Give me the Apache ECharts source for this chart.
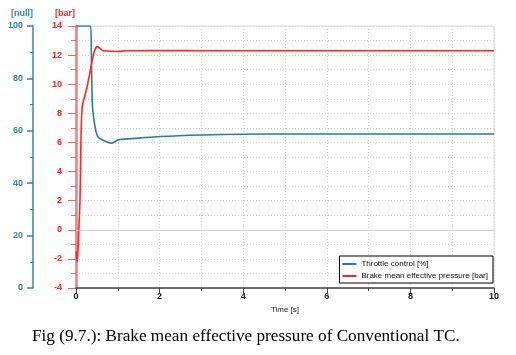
<!DOCTYPE html>
<html>
<head>
<meta charset="utf-8">
<script src="https://cdn.jsdelivr.net/npm/echarts@6/dist/echarts.min.js"></script>
<style>
html,body{margin:0;padding:0;background:#fff;}
#chart{width:516px;height:355px;}
</style>
</head>
<body>
<div id="chart"></div>
<script>
// Time [s] and values
var throttleTime = [0, 0.35, 0.37, 0.39, 0.41, 0.45, 0.5, 0.55, 0.65, 0.85, 1.0, 1.05, 1.5, 2, 3, 4, 5, 6, 7, 8, 9, 10];
var throttle =     [100, 100, 85, 70.5, 66.7, 62, 58.5, 57.3, 56.4, 55.3, 56.5, 56.7, 57.2, 57.8, 58.4, 58.7, 58.8, 58.8, 58.8, 58.8, 58.8, 58.8];

var bmepTime = [0, 0.03, 0.06, 0.095, 0.11, 0.13, 0.15, 0.18, 0.21, 0.27, 0.33, 0.39, 0.45, 0.51, 0.57, 0.65, 0.8, 1.0, 1.2, 1.5, 2, 3, 4, 5, 6, 7, 8, 9, 10];
var bmep =     [-1.5, -2.2, -0.5, 2.0, 4.8, 7.5, 8.5, 8.9, 9.2, 9.9, 10.75, 11.66, 12.35, 12.58, 12.47, 12.3, 12.28, 12.25, 12.3, 12.3, 12.32, 12.3, 12.3, 12.3, 12.3, 12.3, 12.3, 12.3, 12.3];

var seriesNames = ['Throttle control [%]', 'Brake mean effective pressure [bar]'];
var xTicks = [0, 2, 4, 6, 8, 10];
var barTicks = [-4, -2, 0, 2, 4, 6, 8, 10, 12, 14];
var nullTicks = [0, 20, 40, 60, 80, 100];
var caption = 'Fig (9.7.): Brake mean effective pressure of Conventional TC.';

function pairs(t, v) { return t.map(function (x, i) { return [x, v[i]]; }); }

var BLUE = '#2b7c9b';
var RED = '#ff2525';
var AXBLUE = '#3a86a6';
var FONT = 'Liberation Sans';

var chart = echarts.init(document.getElementById('chart'), null, {renderer: 'canvas'});
chart.setOption({
  animation: false,
  backgroundColor: '#fff',
  textStyle: {fontFamily: FONT},
  grid: {left: 76, right: 22, top: 26, bottom: 67, show: true, borderColor: '#d8d8d8', borderWidth: 1},
  legend: {
    right: 23, top: 256, orient: 'vertical',
    backgroundColor: '#fff', borderColor: '#000', borderWidth: 1,
    padding: [4, 5, 3, 3], itemGap: 4, itemWidth: 14, itemHeight: 8,
    textStyle: {fontSize: 8, color: '#111', fontFamily: FONT},
    data: [
      {name: seriesNames[0], icon: 'path://M0,0 L14,0 L14,2 L0,2 Z', itemStyle: {color: BLUE}},
      {name: seriesNames[1], icon: 'path://M0,0 L14,0 L14,2 L0,2 Z', itemStyle: {color: RED}}
    ]
  },
  xAxis: {
    type: 'value', min: xTicks[0], max: xTicks[xTicks.length - 1], interval: 2,
    name: 'Time [s]', nameLocation: 'middle', nameGap: 18,
    nameTextStyle: {fontSize: 8, color: '#222', fontFamily: FONT},
    axisLine: {show: true, onZero: false, lineStyle: {color: '#444', width: 1.5}},
    axisTick: {show: true, length: 5, lineStyle: {color: '#444'}},
    minorTick: {show: true, splitNumber: 2, length: 3, lineStyle: {color: '#444'}},
    axisLabel: {fontSize: 9, fontWeight: 'bold', color: '#111', margin: 4},
    splitLine: {show: true, lineStyle: {color: '#d6d6d6', type: [1, 2]}},
    minorSplitLine: {show: true, lineStyle: {color: '#d6d6d6', type: [1, 2]}}
  },
  yAxis: [
    {
      type: 'value', position: 'left', offset: 0,
      min: barTicks[0], max: barTicks[barTicks.length - 1], interval: 2,
      name: '[bar]', nameLocation: 'end', nameGap: 8,
      nameTextStyle: {fontSize: 9, color: RED, fontWeight: 'bold', align: 'right', padding: [0, 1, 0, 0]},
      axisLine: {show: true, onZero: false, lineStyle: {color: 'rgba(255,60,60,0.55)', width: 3}},
      axisTick: {show: true, length: 8, lineStyle: {color: 'rgba(255,60,60,0.8)'}},
      minorTick: {show: true, splitNumber: 2, length: 5, lineStyle: {color: 'rgba(255,60,60,0.8)'}},
      axisLabel: {fontSize: 9, fontWeight: 'bold', color: RED, margin: 14},
      splitLine: {show: true, lineStyle: {color: '#d6d6d6', type: [1, 2]}},
      minorSplitLine: {show: true, lineStyle: {color: '#d6d6d6', type: [1, 2]}}
    },
    {
      type: 'value', position: 'left', offset: 43,
      min: nullTicks[0], max: nullTicks[nullTicks.length - 1], interval: 20,
      name: '[null]', nameLocation: 'end', nameGap: 8,
      nameTextStyle: {fontSize: 9, color: AXBLUE, fontWeight: 'bold', align: 'right', padding: [0, 0, 0, 0]},
      axisLine: {show: true, onZero: false, lineStyle: {color: AXBLUE, width: 1.5}},
      axisTick: {show: true, length: 6, lineStyle: {color: AXBLUE, width: 1.5}},
      minorTick: {show: true, splitNumber: 2, length: 3, lineStyle: {color: AXBLUE}},
      axisLabel: {fontSize: 9, fontWeight: 'bold', color: AXBLUE, margin: 10},
      splitLine: {show: false}
    }
  ],
  series: [
    {
      name: seriesNames[0], type: 'line', yAxisIndex: 1, showSymbol: false, smooth: 0.3,
      lineStyle: {color: BLUE, width: 1.6}, itemStyle: {color: BLUE},
      data: pairs(throttleTime, throttle), z: 3
    },
    {
      name: seriesNames[1], type: 'line', yAxisIndex: 0, showSymbol: false, smooth: 0.3,
      lineStyle: {color: RED, width: 1.6}, itemStyle: {color: RED},
      data: pairs(bmepTime, bmep), z: 4,
      markLine: {
        silent: true, symbol: 'none', label: {show: false},
        lineStyle: {color: '#cfcfcf', type: 'solid', width: 1},
        data: [{yAxis: 0}]
      }
    }
  ],
  graphic: [
    {
      type: 'text', left: 32, top: 328,
      style: {text: caption, font: '17.2px "Liberation Serif"', fill: '#000'}
    }
  ]
});
</script>
</body>
</html>
